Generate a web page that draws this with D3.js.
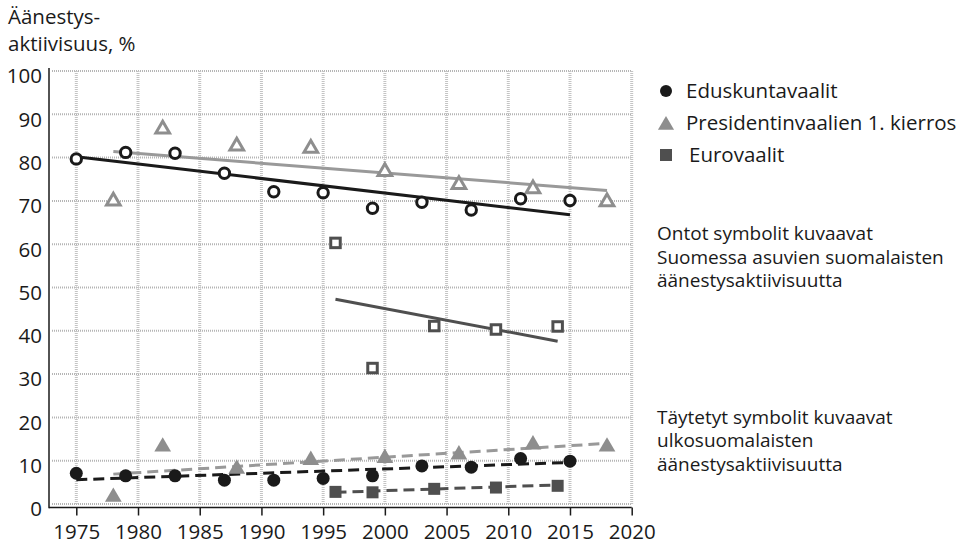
<!DOCTYPE html>
<html>
<head>
<meta charset="utf-8">
<script src="https://cdn.jsdelivr.net/npm/d3@7"></script>
<style>
  body { margin: 0; background: #fff; }
  text { font-family: "Open Sans", "Noto Sans", sans-serif; fill: #1a1a1a; }
</style>
</head>
<body>
<svg id="chart"></svg>
<script>
// vaalivuodet ja äänestysaktiivisuus (%)
const eduYears = [1975, 1979, 1983, 1987, 1991, 1995, 1999, 2003, 2007, 2011, 2015];
const eduHome = [79.7, 81.2, 81.0, 76.4, 72.1, 71.9, 68.3, 69.7, 67.9, 70.5, 70.1];
const eduAbroad = [7.1, 6.5, 6.5, 5.5, 5.5, 5.9, 6.5, 8.8, 8.5, 10.5, 9.9];

const presYears = [1978, 1982, 1988, 1994, 2000, 2006, 2012, 2018];
const presHome = [70.2, 86.8, 82.9, 82.4, 77.0, 74.0, 73.0, 70.0];
const presAbroad = [1.9, 13.5, 8.4, 10.4, 10.9, 11.7, 14.0, 13.5];

const euroYears = [1996, 1999, 2004, 2009, 2014];
const euroHome = [60.3, 31.4, 41.1, 40.3, 41.0];
const euroAbroad = [2.8, 2.7, 3.5, 3.8, 4.2];

// trendiviivat: [alkuvuosi, arvo, loppuvuosi, arvo]
const trendEduHome = [1975, 80.2, 2015, 66.8];
const trendPresHome = [1978, 81.4, 2018, 72.4];
const trendEuroHome = [1996, 47.3, 2014, 37.6];
const trendEduAbroad = [1975, 5.6, 2015, 9.6];
const trendPresAbroad = [1978, 6.9, 2018, 14.0];
const trendEuroAbroad = [1996, 2.7, 2014, 4.4];

const xTicks = [1975, 1980, 1985, 1990, 1995, 2000, 2005, 2010, 2015, 2020];
const yTicks = [0, 10, 20, 30, 40, 50, 60, 70, 80, 90, 100];

const legendLabels = ['Eduskuntavaalit', 'Presidentinvaalien 1. kierros', 'Eurovaalit'];
const noteHollow = ['Ontot symbolit kuvaavat', 'Suomessa asuvien suomalaisten', 'äänestysaktiivisuutta'];
const noteFilled = ['Täytetyt symbolit kuvaavat', 'ulkosuomalaisten', 'äänestysaktiivisuutta'];
const titleLines = ['Äänestys-', 'aktiivisuus, %'];

const colors = { edu: '#1a1a1a', pres: '#8e8e8e', euro: '#4f4f4f' };

const width = 968, height = 545;
const svg = d3.select('#chart').attr('width', width).attr('height', height);

const x = d3.scaleLinear().domain([1975, 2020]).range([76.3, 631.7]);
const y = d3.scaleLinear().domain([0, 100]).range([504, 71]);

// ruudukko
svg.append('g')
    .selectAll('line')
    .data(yTicks)
    .enter()
    .append('line')
    .attr('x1', 52).attr('x2', 632)
    .attr('y1', (d) => y(d)).attr('y2', (d) => y(d))
    .style('stroke', '#b5b5b5')
    .style('stroke-width', 2)
    .style('stroke-dasharray', '1,1');

svg.append('g')
    .selectAll('line')
    .data(xTicks)
    .enter()
    .append('line')
    .attr('x1', (d) => x(d)).attr('x2', (d) => x(d))
    .attr('y1', y(100)).attr('y2', y(0))
    .style('stroke', '#c4c4c4')
    .style('stroke-width', 3)
    .style('stroke-dasharray', '1,1');

// akselit
const xAxis = svg.append('g')
    .attr('transform', 'translate(0,507.5)')
    .attr('font-size', 20.5)
    .attr('font-family', '"Open Sans", sans-serif')
    .call(d3.axisBottom(x).tickValues(xTicks).tickFormat(d3.format('d')).tickSize(8).tickSizeOuter(0));
xAxis.select('.domain').attr('d', `M49,0H${x(2020)}`).style('stroke', '#1a1a1a').style('stroke-width', 1.5);
xAxis.selectAll('.tick line').style('stroke', '#1a1a1a').style('stroke-width', 1.5);
xAxis.selectAll('.tick text').attr('y', 17).style('font-size', '20.5px').style('fill', '#1a1a1a');

svg.append('line')
    .attr('x1', 49).attr('x2', 49)
    .attr('y1', 68).attr('y2', 508.25)
    .style('stroke', '#1a1a1a')
    .style('stroke-width', 1.5);

svg.append('g')
    .selectAll('text')
    .data(yTicks)
    .enter()
    .append('text')
    .attr('x', 42)
    .attr('y', (d) => y(d) + 5)
    .attr('dy', '0.36em')
    .attr('text-anchor', 'end')
    .style('font-size', '20.5px')
    .text((d) => d);

// monirivinen teksti yhtenä text-elementtinä
const multiline = (lines, left, baseline, step, size) => {
    const t = svg.append('text')
        .attr('x', left)
        .attr('y', baseline)
        .style('font-size', size);
    t.selectAll('tspan')
        .data(lines)
        .enter()
        .append('tspan')
        .attr('x', left)
        .attr('dy', (d, i) => i === 0 ? 0 : step)
        .text((d) => d);
};

// otsikko
multiline(titleLines, 8, 24, 27, '20.5px');

// trendiviivat
const trend = (t, color, dashed) => {
    svg.append('line')
        .attr('x1', x(t[0])).attr('y1', y(t[1]))
        .attr('x2', x(t[2])).attr('y2', y(t[3]))
        .style('stroke', color)
        .style('stroke-width', 3)
        .style('stroke-dasharray', dashed ? '11,6' : null);
};

trend(trendPresHome, '#999', false);
trend(trendEduHome, colors.edu, false);
trend(trendEuroHome, colors.euro, false);
trend(trendPresAbroad, '#999', true);
trend(trendEduAbroad, colors.edu, true);
trend(trendEuroAbroad, colors.euro, true);

// symbolit
const tri = (s) => `M0,${-s * 0.62}L${s * 0.62},${s * 0.45}L${-s * 0.62},${s * 0.45}Z`;

const points = (years, values) => years.map((yr, i) => ({ x: x(yr), y: y(values[i]) }));

const drawCircles = (data, hollow) => {
    svg.append('g').selectAll('circle')
        .data(data).enter()
        .append('circle')
        .attr('cx', (d) => d.x).attr('cy', (d) => d.y)
        .attr('r', hollow ? 5.2 : 6.5)
        .style('fill', hollow ? '#fff' : colors.edu)
        .style('stroke', hollow ? colors.edu : 'none')
        .style('stroke-width', 3);
};

const drawTriangles = (data, hollow) => {
    svg.append('g').selectAll('path')
        .data(data).enter()
        .append('path')
        .attr('transform', (d) => `translate(${d.x},${d.y})`)
        .attr('d', tri(hollow ? 11 : 13.5))
        .style('fill', hollow ? '#fff' : colors.pres)
        .style('stroke', hollow ? colors.pres : 'none')
        .style('stroke-width', 3)
        .style('stroke-linejoin', 'miter');
};

const drawSquares = (data, hollow) => {
    const s = hollow ? 9.5 : 12;
    svg.append('g').selectAll('rect')
        .data(data).enter()
        .append('rect')
        .attr('x', (d) => d.x - s / 2).attr('y', (d) => d.y - s / 2)
        .attr('width', s).attr('height', s)
        .style('fill', hollow ? '#fff' : colors.euro)
        .style('stroke', hollow ? colors.euro : 'none')
        .style('stroke-width', 3);
};

drawSquares(points(euroYears, euroHome), true);
drawTriangles(points(presYears, presHome), true);
drawCircles(points(eduYears, eduHome), true);
drawSquares(points(euroYears, euroAbroad), false);
drawTriangles(points(presYears, presAbroad), false);
drawCircles(points(eduYears, eduAbroad), false);

// selite
const legend = svg.append('g');
legend.append('circle').attr('cx', 666).attr('cy', 91).attr('r', 6).style('fill', colors.edu);
legend.append('path').attr('transform', 'translate(666,124)').attr('d', tri(13)).style('fill', colors.pres);
legend.append('rect').attr('x', 660).attr('y', 149).attr('width', 12).attr('height', 12).style('fill', colors.euro);

legend.selectAll('text')
    .data(legendLabels)
    .enter()
    .append('text')
    .attr('x', (d, i) => i === 2 ? 689 : 686)
    .attr('y', (d, i) => [91, 123, 155][i])
    .attr('dy', '0.36em')
    .style('font-size', '20.5px')
    .text((d) => d);

// huomautukset
multiline(noteHollow, 657, 240, 23.6, '19px');
multiline(noteFilled, 657, 423.5, 23.6, '19px');
</script>
</body>
</html>
